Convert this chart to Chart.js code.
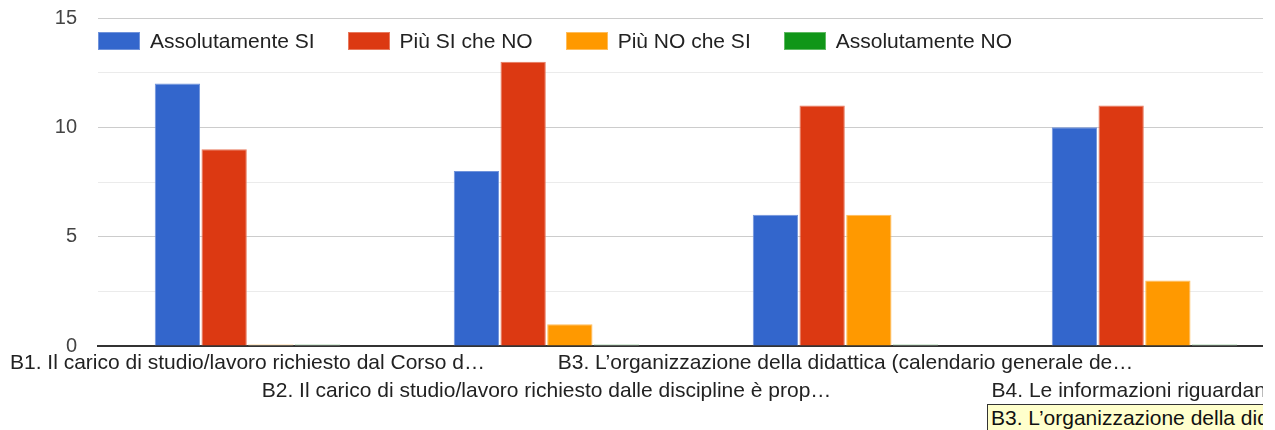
<!DOCTYPE html>
<html>
<head>
<meta charset="utf-8">
<script src="https://cdn.jsdelivr.net/npm/chart.js@4/dist/chart.umd.min.js"></script>
<style>
  html, body { margin: 0; padding: 0; background: #fff; }
  body { width: 1275px; height: 430px; overflow: hidden; position: relative; font-family: Arial, "Liberation Sans", sans-serif; }
  #clip { position: absolute; left: 0; top: 0; width: 1263px; height: 430px; overflow: hidden; }
  #wrap { position: absolute; left: 0; top: 0; width: 1300px; height: 430px; }
  #legend { position: absolute; left: 98px; top: 29px; display: flex; font-size: 21px; color: #222; }
  #legend .item { display: flex; align-items: center; margin-right: 33px; }
  #legend .box { width: 40px; height: 16px; margin-right: 10px; }
  #tip { position: absolute; left: 987px; top: 404px; height: 26px; line-height: 26px; padding: 0 3px;
         border: 1px solid #333; background: #ffffcc; font-size: 21px; color: #111; white-space: nowrap; }
</style>
</head>
<body>
<div id="clip">
  <div id="wrap"><canvas id="chart" width="1300" height="430"></canvas></div>
  <div id="legend"></div>
  <div id="tip"></div>
</div>
<script>
  // Categories (questions) as shown on the axis, already truncated like the original
  const categories = [
    'B1. Il carico di studio/lavoro richiesto dal Corso d…',
    'B2. Il carico di studio/lavoro richiesto dalle discipline è prop…',
    'B3. L’organizzazione della didattica (calendario generale de…',
    'B4. Le informazioni riguardanti…'
  ];
  const seriesNames = ['Assolutamente SI', 'Più SI che NO', 'Più NO che SI', 'Assolutamente NO'];
  const seriesColors = ['#3366cc', '#dc3912', '#ff9900', '#109618'];
  const seriesEdges = ['#7093db', '#e87a5e', '#ffbd5c', '#5fba63'];
  const seriesFaint = ['#d6e0f5', '#f8d7cf', '#ffe6c2', '#cfe8d1'];

  const assolutamenteSi = [12, 8, 6, 10];
  const piuSiCheNo = [9, 13, 11, 11];
  const piuNoCheSi = [0, 1, 6, 3];
  const assolutamenteNo = [0, 0, 0, 0];

  const yTicks = [0, 5, 10, 15];
  const tooltipText = 'B3. L’organizzazione della didattica (calendario generale delle attività)';

  const values = [assolutamenteSi, piuSiCheNo, piuNoCheSi, assolutamenteNo];

  // Stagger the axis labels on two rows, like Google Charts does
  const labels = categories.map((c, i) => i % 2 === 0 ? [c, ''] : ['', c]);

  const datasets = seriesNames.map((name, i) => ({
    label: name,
    data: values[i],
    backgroundColor: ctx => ctx.raw === 0 ? seriesFaint[i] : seriesColors[i],
    borderColor: ctx => ctx.raw === 0 ? seriesFaint[i] : seriesEdges[i],
    borderWidth: 1,
    borderSkipped: 'bottom',
    minBarLength: 2,
    categoryPercentage: 0.625,
    barPercentage: 0.97
  }));

  const chart = new Chart(document.getElementById('chart'), {
    type: 'bar',
    data: { labels: labels, datasets: datasets },
    options: {
      responsive: false,
      animation: false,
      events: [],
      layout: { padding: { top: 18, right: 6, left: 0, bottom: 0 } },
      plugins: { legend: { display: false }, tooltip: { enabled: false } },
      scales: {
        x: {
          grid: { display: false, drawTicks: false },
          border: { color: '#333', width: 2 },
          ticks: {
            maxRotation: 0, minRotation: 0, autoSkip: false, padding: 3,
            color: '#222',
            font: { family: 'Arial, "Liberation Sans", sans-serif', size: 21, lineHeight: 1.34 }
          },
          afterFit: scale => {
            scale.height = 84;
            // labels may overflow the category; don't let them shrink the plot
            scale.paddingLeft = 0;
            scale.paddingRight = 0;
          }
        },
        y: {
          min: 0, max: 15,
          border: { display: false },
          grid: {
            drawTicks: false,
            color: ctx => ctx.tick && ctx.tick.value % 5 === 0 ? '#cccccc' : '#ebebeb'
          },
          ticks: {
            stepSize: 2.5,
            padding: 21,
            color: '#444',
            font: { family: 'Arial, "Liberation Sans", sans-serif', size: 20 },
            callback: v => yTicks.includes(v) ? String(v) : ''
          },
          afterFit: scale => {
            scale.width = 98;
            // keep the tick padding from pushing the plot area down
            scale.paddingTop = 10;
            scale.paddingBottom = 10;
          }
        }
      }
    }
  });

  // HTML legend built from the chart's datasets
  const legendEl = document.getElementById('legend');
  chart.data.datasets.forEach((ds, i) => {
    const item = document.createElement('div');
    item.className = 'item';
    item.innerHTML = `<span class="box" style="background:${seriesColors[i]};border:1px solid ${seriesEdges[i]}"></span><span>${ds.label}</span>`;
    legendEl.appendChild(item);
  });

  document.getElementById('tip').textContent = tooltipText;
</script>
</body>
</html>
